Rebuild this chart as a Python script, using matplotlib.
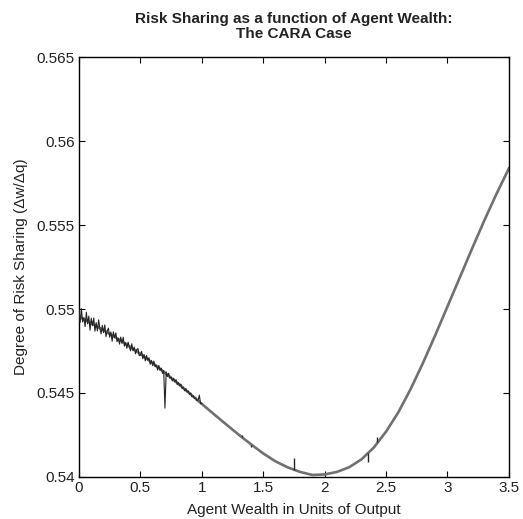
import matplotlib
matplotlib.use("Agg")
import matplotlib.pyplot as plt

plt.rcParams['font.family'] = ['Liberation Sans', 'DejaVu Sans']

# smooth curve, every 0.1
wealth = [0.0, 0.1, 0.2, 0.3, 0.4, 0.5, 0.6, 0.7, 0.8, 0.9, 1.0, 1.1, 1.2,
          1.3, 1.4, 1.5, 1.6, 1.7, 1.8, 1.9, 2.0, 2.1, 2.2, 2.3, 2.4, 2.5,
          2.6, 2.7, 2.8, 2.9, 3.0, 3.1, 3.2, 3.3, 3.4, 3.5]
sharing = [0.54955, 0.54915, 0.54874, 0.54830, 0.54783, 0.54733, 0.54678,
           0.54620, 0.54560, 0.54498, 0.54435, 0.54373, 0.54312, 0.54252,
           0.54195, 0.54140, 0.54093, 0.54057, 0.54030, 0.54012, 0.54015,
           0.54030, 0.54058, 0.54105, 0.54175, 0.54270, 0.54385, 0.54523,
           0.54678, 0.54843, 0.55015, 0.55187, 0.55359, 0.55527, 0.55687,
           0.55837]

# noisy numerical solution at low wealth (x = 0 .. 1, step 0.01)
noisy_w = [i / 100 for i in range(101)]
noisy_s = [0.55000, 0.54921, 0.55002, 0.54923, 0.54949, 0.54895, 0.54981,
           0.54912, 0.54958, 0.54874, 0.54945, 0.54901, 0.54947, 0.54868,
           0.54919, 0.54869, 0.54935, 0.54886, 0.54852, 0.54903, 0.54859,
           0.54905, 0.54835, 0.54871, 0.54886, 0.54832, 0.54863, 0.54808,
           0.54864, 0.54829, 0.54858, 0.54805, 0.54826, 0.54791, 0.54833,
           0.54796, 0.54832, 0.54779, 0.54800, 0.54766, 0.54803, 0.54773,
           0.54751, 0.54793, 0.54751, 0.54773, 0.54733, 0.54758, 0.54765,
           0.54723, 0.54725, 0.54748, 0.54704, 0.54729, 0.54691, 0.54724,
           0.54695, 0.54710, 0.54671, 0.54694, 0.54663, 0.54690, 0.54656,
           0.54666, 0.54637, 0.54664, 0.54635, 0.54649, 0.54617, 0.54634,
           0.54410, 0.54626, 0.54598, 0.54617, 0.54588, 0.54595, 0.54572,
           0.54588, 0.54566, 0.54580, 0.54550, 0.54562, 0.54543, 0.54553,
           0.54527, 0.54535, 0.54513, 0.54527, 0.54506, 0.54512, 0.54492,
           0.54500, 0.54477, 0.54484, 0.54468, 0.54472, 0.54455, 0.54458,
           0.54487, 0.54436, 0.54438]

# isolated glitches further out
spike_w = [1.33, 1.40, 1.75, 2.355, 2.43]
spike_base = [0.54235, 0.54192, 0.54040, 0.54140, 0.54208]
spike_tip = [0.54252, 0.54178, 0.54110, 0.54090, 0.54238]

xticks = [0, 0.5, 1, 1.5, 2, 2.5, 3, 3.5]
xlabels = ['0', '0.5', '1', '1.5', '2', '2.5', '3', '3.5']
yticks = [0.54, 0.545, 0.55, 0.555, 0.56, 0.565]
ylabels = ['0.54', '0.545', '0.55', '0.555', '0.56', '0.565']

fig = plt.figure(figsize=(5.23, 5.19), dpi=100)
ax = fig.add_axes([0.151, 0.081, 0.822, 0.809])

ax.plot(wealth, sharing, color='#707070', lw=1.9, zorder=2)
ax.plot(noisy_w, noisy_s, color='#262626', lw=0.8, zorder=3)
ax.vlines(spike_w, spike_base, spike_tip, color='#262626', lw=1.0, zorder=3)

ax.set_xlim(0, 3.5)
ax.set_ylim(0.54, 0.565)
ax.set_xticks(xticks)
ax.set_xticklabels(xlabels)
ax.set_yticks(yticks)
ax.set_yticklabels(ylabels)
ax.tick_params(direction='in', top=True, right=True, labelsize=11, length=4,
               width=0.8, pad=3, labelcolor='#222222')
for s in ax.spines.values():
    s.set_linewidth(1.0)

ax.set_xlabel('Agent Wealth in Units of Output', fontsize=11, labelpad=6,
              color='#222222')
ax.set_ylabel('Degree of Risk Sharing (\u0394w/\u0394q)', fontsize=11,
              labelpad=6, color='#222222')
ax.set_title('Risk Sharing as a function of Agent Wealth:\nThe CARA Case',
             fontsize=11, fontweight='bold', pad=14, linespacing=1.05,
             color='#222222')

fig.savefig('out.png', dpi=100)
